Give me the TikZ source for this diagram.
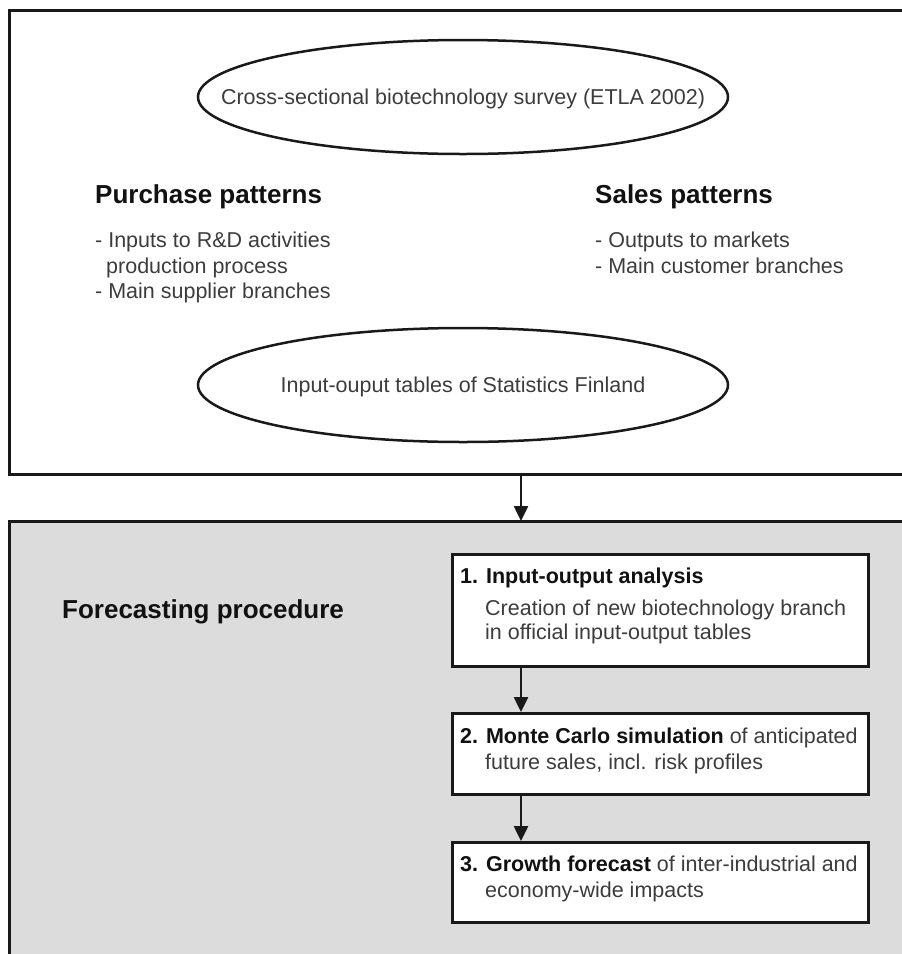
\documentclass[tikz,border=0pt]{standalone}
\usepackage{fontspec}
\setmainfont{Liberation Sans}
\usetikzlibrary{shapes.geometric,arrows.meta}

\definecolor{bodyink}{HTML}{3C3C3C}
\definecolor{boldink}{HTML}{111111}
\definecolor{panelgray}{HTML}{DCDCDC}

\tikzset{
  frame/.style={draw=black!90, line width=3pt},
  oval/.style={draw=black!90, line width=2.5pt, ellipse, minimum width=530pt,
    minimum height=114pt, inner sep=0pt},
  ovaltext/.style={inner sep=0pt, text height=15.4pt, text depth=0pt,
    text=bodyink, font=\fontsize{21.5}{24}\selectfont},
  stepbox/.style={draw=black!90, line width=3pt, fill=white, anchor=north west,
    minimum width=416pt, inner sep=0pt},
  txt/.style={anchor=base west, inner sep=0pt, text=bodyink,
    font=\fontsize{21.5}{24}\selectfont},
  head/.style={anchor=base west, inner sep=0pt, text=boldink,
    font=\fontsize{26}{30}\selectfont\bfseries},
  flow/.style={draw=black!90, line width=2.5pt,
    -{Triangle[width=14pt,length=15pt]}},
}
\newcommand{\bold}[1]{{\color{boldink}\bfseries #1}}

\begin{document}
\begin{tikzpicture}[x=1pt,y=-1pt]
  \useasboundingbox (0,0) rectangle (902,954);
  \clip (0,0) rectangle (902,954);

  % upper panel: data sources
  \draw[frame] (9,10.5) rectangle (930,474);
  \node[oval] (survey) at (463,97) {};
  \node[ovaltext] (surveytext) at (survey.center) {Cross-sectional biotechnology survey (ETLA 2002)};
  \node[oval] (iotables) at (463,385) {};
  \node[ovaltext] (iotext) at (iotables.center) {Input-ouput tables of Statistics Finland};

  \node[head] (purchase) at (95,203) {Purchase patterns};
  \node[txt] (pa) at (95,247) {- Inputs to R\&D activities};
  \node[txt] (pb) at (106,273) {production process};
  \node[txt] (pc) at (95,298) {- Main supplier branches};

  \node[head] (sales) at (595,203) {Sales patterns};
  \node[txt] (sa) at (595,247) {- Outputs to markets};
  \node[txt] (sb) at (595,273) {- Main customer branches};

  % lower panel: forecasting procedure
  \fill[panelgray] (9,521) rectangle (930,980);
  \draw[frame] (9,980) -- (9,521) -- (930,521);

  \coordinate (spine) at (521,0);
  \coordinate (upperedge) at (521,474);
  \coordinate (loweredge) at (521,521);
  \draw[flow] (upperedge) -- (loweredge);

  \node[head] (forecast) at (62,618) {Forecasting procedure};

  \node[stepbox, minimum height=112pt] (b1) at (451,553) {};
  \node[stepbox, minimum height=81pt] (b2) at (451,712) {};
  \node[stepbox, minimum height=80pt] (b3) at (451,841) {};

  \node[txt, text=boldink, font=\fontsize{21.5}{24}\selectfont\bfseries] (b1a) at (460,583) {1. Input-output analysis};
  \node[txt] (b1b) at (485,615) {Creation of new biotechnology branch};
  \node[txt] (b1c) at (485,639) {in official input-output tables};

  \node[txt] (b2a) at (460,743) {\bold{2. Monte Carlo simulation} of anticipated};
  \node[txt] (b2b) at (485,769) {future sales, incl. risk profiles};

  \node[txt] (b3a) at (460,871) {\bold{3. Growth forecast} of inter-industrial and};
  \node[txt] (b3b) at (485,897) {economy-wide impacts};

  \draw[flow] (b1.south -| spine) -- (b2.north -| spine);
  \draw[flow] (b2.south -| spine) -- (b3.north -| spine);
\end{tikzpicture}
\end{document}
